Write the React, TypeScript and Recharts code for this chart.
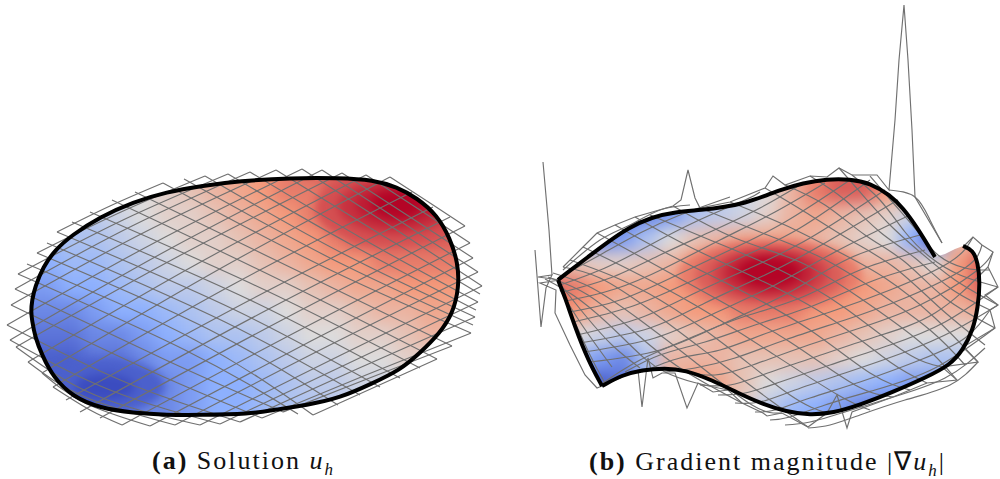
import React from "react";
import { ComposedChart, XAxis, YAxis, Area, Line, Scatter } from "recharts";

type P = [number, number];

const captionA = { tag: "(a)", word: "Solution", sym: "u", sub: "h" };
const captionB = { tag: "(b)", word: "Gradient magnitude", sym: "u", sub: "h" };

const leftUpper: P[] = [[31,312],[32,300],[35,287],[43,267],[55,250],[72,235],[100,217],[133,202],[167,192],[200,186],[240,181],[290,178],[340,178],[373,180],[397,187],[417,198],[437,215],[450,238],[458,263],[459,287]];
const leftLower: P[] = [[31,312],[32,320],[35,337],[42,355],[53,377],[73,397],[100,408],[133,413],[167,415],[200,415],[250,414],[273,410],[307,405],[340,398],[373,383],[400,370],[420,353],[440,333],[453,313],[459,287]];
const rightUpperA: P[] = [[558,280],[568,272],[588,257],[608,242],[628,228],[652,217],[675,212],[702,210],[725,207],[745,203],[765,196],[780,190],[803,183],[827,179],[850,179],[870,183],[890,195],[903,208],[917,227],[935,257]];
const rightUpperB: P[] = [[963,246],[973,250],[978,263],[980,283]];
const rightNotch: P[] = [[935,257],[945,254],[955,249],[963,246]];
const rightLower: P[] = [[558,280],[565,297],[575,327],[588,360],[602,386],[622,375],[642,370],[665,368],[685,370],[712,380],[738,393],[760,403],[787,412],[810,415],[833,413],[860,405],[893,392],[927,377],[950,365],[963,350],[973,330],[978,307],[980,283]];

const leftCols = [24,48,72,96,120,144,168,192,216,240,264,288,312,336,360,384,408,432,456,480];
const rightCols = [552,576,600,624,648,672,696,720,744,768,792,816,840,864,888,912,936,960,984];
const heatRowsY = [168,192,216,240,264,288,312,336,360,384,408,432];
const leftHeat = [
  [-2,-1,0,0,0,1,2,3,3,4,5,6,7,7,8,9,9,8,8,8],
  [-3,-2,-1,-1,0,0,1,2,3,4,5,6,6,7,8,9,9,9,8,8],
  [-4,-3,-3,-2,-1,0,1,1,2,3,4,5,6,7,8,8,8,8,8,8],
  [-5,-4,-3,-3,-2,-1,0,1,1,2,3,4,5,6,7,7,7,7,7,7],
  [-5,-5,-4,-4,-3,-2,-1,0,1,1,2,3,4,5,5,6,6,6,6,6],
  [-6,-6,-5,-5,-4,-3,-2,-2,-1,0,1,1,2,3,4,4,5,5,5,5],
  [-7,-7,-7,-6,-5,-5,-4,-3,-2,-1,-1,0,1,1,2,3,3,4,4,4],
  [-8,-8,-8,-7,-7,-6,-5,-4,-3,-3,-2,-1,0,0,1,1,2,3,3,3],
  [-9,-9,-9,-8,-8,-7,-6,-6,-5,-4,-3,-2,-1,-1,0,0,1,1,1,1],
  [-9,-9,-9,-9,-8,-7,-7,-6,-5,-5,-4,-3,-2,-2,-1,-1,0,0,0,0],
  [-9,-9,-9,-9,-8,-7,-7,-6,-5,-5,-4,-3,-3,-2,-2,-1,-1,0,0,0],
  [-9,-9,-9,-9,-8,-7,-7,-6,-5,-5,-4,-3,-3,-2,-2,-1,-1,0,0,0],
];
const rightHeat = [
  [-2,-4,-7,-7,-6,-5,-3,-1,0,1,3,5,7,7,6,3,0,0,0],
  [-4,-5,-7,-8,-7,-6,-4,-2,-1,0,3,6,7,7,5,3,0,0,0],
  [-5,-6,-8,-8,-7,-6,-3,-2,-1,1,3,4,3,2,1,-1,-5,-3,-3],
  [0,-4,-7,-6,-3,0,2,3,4,4,4,3,2,1,0,-5,-9,2,5],
  [3,2,1,1,2,3,5,6,7,7,7,6,5,3,3,2,0,5,7],
  [7,6,5,4,4,5,5,6,7,7,7,6,5,5,4,3,3,5,7],
  [6,5,3,2,3,4,5,5,6,6,6,5,5,4,3,3,3,3,4],
  [2,0,-1,-2,-1,1,2,3,4,4,4,4,3,2,1,0,0,0,0],
  [-2,-4,-6,-7,-3,3,3,3,2,2,2,2,1,0,-1,-2,-3,-3,-3],
  [-7,-8,-9,-8,-4,3,5,4,2,0,-1,-2,-3,-4,-5,-6,-6,-6,-6],
  [-8,-9,-9,-8,-5,2,4,3,1,-2,-4,-5,-6,-7,-8,-8,-8,-7,-7],
  [-8,-9,-9,-8,-5,0,2,1,0,-3,-5,-6,-7,-8,-8,-8,-8,-7,-7],
];
// hot and cold spots: centre x, centre y, half-axes, value
const spots = [
  { x: 394, y: 208, rx: 78, ry: 38, v: 7.5 },
  { x: 396, y: 206, rx: 58, ry: 28, v: 8.5 },
  { x: 397, y: 205, rx: 42, ry: 20, v: 9.2 },
  { x: 397, y: 204, rx: 26, ry: 14, v: 10 },
  { x: 103, y: 386, rx: 62, ry: 28, v: -9 },
  { x: 105, y: 387, rx: 30, ry: 13, v: -10 },
  { x: 770, y: 275, rx: 92, ry: 36, v: 6 },
  { x: 770, y: 275, rx: 75, ry: 31, v: 7 },
  { x: 770, y: 274, rx: 58, ry: 26, v: 8 },
  { x: 769, y: 273, rx: 45, ry: 21, v: 9 },
  { x: 769, y: 272, rx: 31, ry: 15, v: 10 },
];

const leftRising: P[][] = [
  [[57,232],[110,206],[163,183]],
  [[37,253],[121,212],[205,176]],
  [[18,274],[123,220],[228,174]],
  [[15,289],[132,226],[250,172]],
  [[11,305],[143,233],[276,170]],
  [[7,325],[154,243],[302,169]],
  [[10,340],[166,251],[322,170]],
  [[16,347],[179,256],[342,173]],
  [[28,362],[197,264],[366,175]],
  [[42,373],[216,271],[390,177]],
  [[53,387],[232,285],[412,192]],
  [[66,400],[250,300],[433,207]],
  [[80,412],[265,311],[450,217]],
  [[100,418],[282,320],[465,226]],
  [[122,425],[296,332],[470,243]],
  [[150,426],[311,341],[473,258]],
  [[175,425],[326,347],[478,272]],
  [[200,425],[341,355],[482,286]],
  [[220,424],[349,363],[478,302]],
  [[240,422],[357,369],[475,317]],
  [[262,418],[366,375],[471,333]],
  [[283,412],[367,379],[452,346]],
  [[313,415],[375,387],[437,359]],
];
const leftFalling: P[][] = [
  [[390,177],[430,203],[465,226]],
  [[366,175],[420,210],[470,243]],
  [[342,173],[410,217],[473,258]],
  [[322,170],[400,221],[478,272]],
  [[302,169],[395,229],[482,286]],
  [[276,170],[380,234],[480,294]],
  [[250,172],[370,243],[478,302]],
  [[228,174],[350,244],[476,310]],
  [[205,176],[340,252],[475,317]],
  [[184,179],[330,258],[473,325]],
  [[163,183],[320,265],[471,333]],
  [[135,192],[300,272],[452,346]],
  [[112,200],[280,280],[437,359]],
  [[90,212],[265,290],[420,368]],
  [[72,222],[250,300],[400,378]],
  [[57,232],[235,310],[380,387]],
  [[47,243],[225,322],[360,395]],
  [[37,253],[210,330],[338,405]],
  [[27,264],[195,340],[313,415]],
  [[18,274],[185,350],[298,414]],
  [[15,289],[170,362],[283,412]],
  [[11,305],[155,373],[262,418]],
  [[7,325],[125,382],[240,422]],
  [[10,340],[110,390],[220,424]],
  [[16,347],[95,395],[200,425]],
  [[28,362],[85,397],[175,425]],
  [[42,373],[85,403],[150,426]],
  [[53,387],[90,410],[122,425]],
];
const rightRising: P[][] = [
  [[563,270],[600,240],[630,225],[660,210],[690,205]],
  [[558,278],[600,255],[640,233],[680,215],[730,197]],
  [[560,285],[605,268],[650,245],[695,222],[745,200],[760,192]],
  [[563,292],[610,278],[660,255],[710,232],[760,208],[800,185]],
  [[566,301],[615,289],[665,268],[720,240],[775,212],[825,183]],
  [[570,312],[620,300],[675,276],[730,250],[785,222],[850,180]],
  [[573,322],[630,307],[685,284],[740,258],[800,228],[870,180]],
  [[577,335],[640,318],[695,293],[750,268],[810,238],[885,190]],
  [[580,343],[650,328],[705,303],[765,275],[825,243],[898,200]],
  [[584,352],[655,338],[715,313],[775,285],[835,252],[910,215]],
  [[590,362],[660,350],[725,323],[790,292],[850,258],[920,235]],
  [[600,385],[640,360],[690,338],[740,318],[800,298],[860,270],[925,250]],
  [[625,372],[660,355],[705,342],[755,325],[815,305],[875,280],[935,262]],
  [[642,372],[680,358],[720,350],[770,332],[830,312],[890,290],[950,262],[973,237]],
  [[665,372],[695,368],[735,358],[785,340],[845,320],[905,298],[965,268],[982,245]],
  [[685,372],[715,375],[750,366],[800,348],[860,328],[920,305],[975,272],[993,252]],
  [[700,385],[730,385],[765,374],[815,357],[875,337],[935,313],[988,267]],
  [[718,395],[745,393],[780,382],[830,365],[890,345],[945,322],[998,287]],
  [[735,403],[760,402],[795,390],[845,373],[905,352],[955,330],[998,305]],
  [[755,412],[775,410],[810,398],[860,382],[920,360],[965,338],[990,310]],
  [[770,420],[790,417],[825,405],[875,390],[935,368],[995,328]],
  [[785,425],[810,422],[845,412],[890,398],[945,378],[985,348]],
  [[808,428],[830,425],[860,415],[905,400],[950,385],[978,362]],
];
const rightFalling: P[][] = [
  [[889,190],[915,197],[930,220],[942,243]],
  [[870,176],[895,205],[918,232],[938,255],[965,268],[990,270]],
  [[852,175],[880,200],[905,232],[930,257],[960,275],[998,287]],
  [[839,168],[860,192],[890,225],[920,252],[955,280],[998,305]],
  [[810,176],[845,200],[880,232],[915,258],[950,288],[990,310]],
  [[785,185],[825,205],[865,235],[905,262],[945,298],[995,328]],
  [[765,188],[805,212],[850,240],[895,268],[940,308],[985,345]],
  [[730,202],[785,225],[835,250],[885,278],[935,318],[978,362]],
  [[700,208],[760,232],[820,257],[875,290],[930,330],[965,365]],
  [[673,206],[735,238],[800,262],[860,298],[920,342],[957,380]],
  [[650,215],[710,240],[780,270],[845,308],[905,352],[942,367]],
  [[635,217],[690,247],[760,280],[830,318],[890,362],[927,383]],
  [[615,225],[670,255],[740,290],[810,330],[870,373],[910,390]],
  [[597,233],[650,262],[715,298],[790,342],[855,385],[893,397]],
  [[583,247],[630,270],[695,305],[770,352],[838,395],[870,410]],
  [[570,260],[610,275],[660,300],[725,345],[790,395],[827,413]],
  [[563,267],[600,278],[650,310],[710,355],[770,400],[808,427]],
  [[553,273],[592,288],[640,320],[695,362],[752,405],[782,413]],
  [[548,277],[588,295],[632,330],[680,368],[742,403]],
  [[545,279],[580,300],[622,337],[665,372],[728,390]],
  [[560,284],[585,315],[612,345],[640,368]],
  [[560,290],[582,325],[612,367]],
  [[565,300],[590,355],[605,383]],
];
// jagged fringe and spikes of the right mesh
const rightFringe: P[][] = [
  [[563,267],[583,247],[597,233],[615,225],[635,217],[673,206],[681,200],[688,170],[695,198],[700,208],[730,202],[765,188],[773,176],[785,185],[810,176],[827,177],[839,168],[852,175],[877,175],[889,190],[895,120],[899,60],[904,5],[908,60],[912,130],[915,197],[942,243]],
  [[543,162],[549,230],[552,275]],
  [[535,250],[541,327],[546,288],[552,275],[538,277],[560,280],[540,283],[556,290],[555,313],[570,345],[585,375],[597,388],[602,386]],
  [[602,386],[638,370],[642,407],[648,358],[653,378],[662,373],[675,373],[687,408],[698,383],[713,392],[728,390],[742,403],[763,413],[767,416],[782,413],[808,427],[827,413],[837,395],[847,428],[852,412],[893,397],[927,383],[957,380],[942,367],[978,362],[963,347],[995,328],[990,310],[998,305],[985,295],[998,287],[988,267],[993,252],[982,245],[973,237],[965,245]],
];

const stops: [number, number, number][] = [[59,76,192],[141,176,254],[221,220,220],[244,154,123],[180,4,38]];
function colour(v: number) {
  const t = ((v + 10) / 20) * 4;
  const i = Math.min(3, Math.floor(t));
  const f = t - i;
  const c = stops[i].map((s, k) => Math.round(s + (stops[i + 1][k] - s) * f));
  return `rgb(${c[0]},${c[1]},${c[2]})`;
}

const pts = (a: P[]) => a.map(([x, y]) => ({ x, y }));
const gridPts = (cols: number[], rows: number[][]) =>
  rows.flatMap((r, j) => r.map((v, i) => ({ x: cols[i], y: heatRowsY[j], v })));
const heatData = [...gridPts(leftCols, leftHeat), ...gridPts(rightCols, rightHeat)];

const upperEdge = pts([[0,479],[31,479],...leftUpper,[459,479],[558,479],...rightUpperA,...rightNotch,...rightUpperB,[980,479],[1000,479]]);
const lowerEdge = pts([[31,479],...leftLower,[459,479],[558,479],...rightLower,[980,479]]);
const meshA = [...leftRising, ...leftFalling];
const meshB = [...rightRising, ...rightFalling];
const outlineA = pts([...leftUpper, ...leftLower.slice(1, -1).reverse()]);
const outlineB1 = pts(rightUpperA);
const outlineB2 = pts([...rightUpperB, ...rightLower.slice(4, -1).reverse()]);
const outlineB3 = pts(rightLower.slice(0, 5));

const HeatCell = (p: any) => <rect x={p.cx - 13} y={p.cy - 13} width={26} height={26} fill={colour(p.payload.v)} />;
const SpotCell = (p: any) => <ellipse cx={p.cx} cy={p.cy} rx={p.payload.rx} ry={p.payload.ry} fill={colour(p.payload.v)} />;

const meshStyle = { stroke: "#707070", strokeWidth: 1.15, dot: false, isAnimationActive: false, legendType: "none" as const };
const edgeStyle = { stroke: "#000", strokeWidth: 4, dot: false, isAnimationActive: false, legendType: "none" as const };

const capStyle: React.CSSProperties = { position: "absolute", top: 446, fontFamily: "'Liberation Serif', serif", fontSize: 26, letterSpacing: 2, whiteSpace: "nowrap", color: "#111" };

export default function App() {
  return (
    <div style={{ position: "absolute", left: 0, top: 0, width: 1000, height: 479, background: "#fff", overflow: "hidden" }}>
      <style>{`.heat-layer{filter:blur(8px)} .spot-layer{filter:blur(4px)}`}</style>
      <ComposedChart width={1000} height={479} margin={{ top: 0, right: 0, bottom: 0, left: 0 }}>
        <XAxis type="number" dataKey="x" domain={[0, 1000]} hide />
        <YAxis type="number" dataKey="y" domain={[0, 479]} reversed hide />
        <Scatter data={heatData} dataKey="y" shape={HeatCell} className="heat-layer" isAnimationActive={false} zIndex={10} />
        <Scatter data={spots} dataKey="y" shape={SpotCell} className="spot-layer" isAnimationActive={false} zIndex={20} />
        <Area data={upperEdge} dataKey={(d: any) => [0, d.y]} type="linear" stroke="none" fill="#fff" fillOpacity={1} dot={false} isAnimationActive={false} zIndex={30} />
        <Area data={lowerEdge} dataKey={(d: any) => [d.y, 479]} type="linear" stroke="none" fill="#fff" fillOpacity={1} dot={false} isAnimationActive={false} zIndex={30} />
        {meshA.map((l, i) => <Line key={`a${i}`} data={pts(l)} dataKey="y" type="natural" {...meshStyle} zIndex={40} />)}
        {meshB.map((l, i) => <Line key={`b${i}`} data={pts(l)} dataKey="y" type="natural" {...meshStyle} zIndex={40} />)}
        {rightFringe.map((l, i) => <Line key={`f${i}`} data={pts(l)} dataKey="y" type="linear" {...meshStyle} zIndex={40} />)}
        <Line data={outlineA} dataKey="y" type="basisClosed" {...edgeStyle} zIndex={50} />
        <Line data={outlineB1} dataKey="y" type="basis" {...edgeStyle} zIndex={50} />
        <Line data={outlineB2} dataKey="y" type="basis" {...edgeStyle} zIndex={50} />
        <Line data={outlineB3} dataKey="y" type="basis" {...edgeStyle} zIndex={50} />
      </ComposedChart>
      <div style={{ ...capStyle, left: 152 }}>
        <b>{captionA.tag}</b> {captionA.word} <i>{captionA.sym}<sub style={{ fontSize: 17 }}>{captionA.sub}</sub></i>
      </div>
      <div style={{ ...capStyle, left: 589 }}>
        <b>{captionB.tag}</b> {captionB.word} |∇<i>{captionB.sym}<sub style={{ fontSize: 17 }}>{captionB.sub}</sub></i>|
      </div>
    </div>
  );
}
